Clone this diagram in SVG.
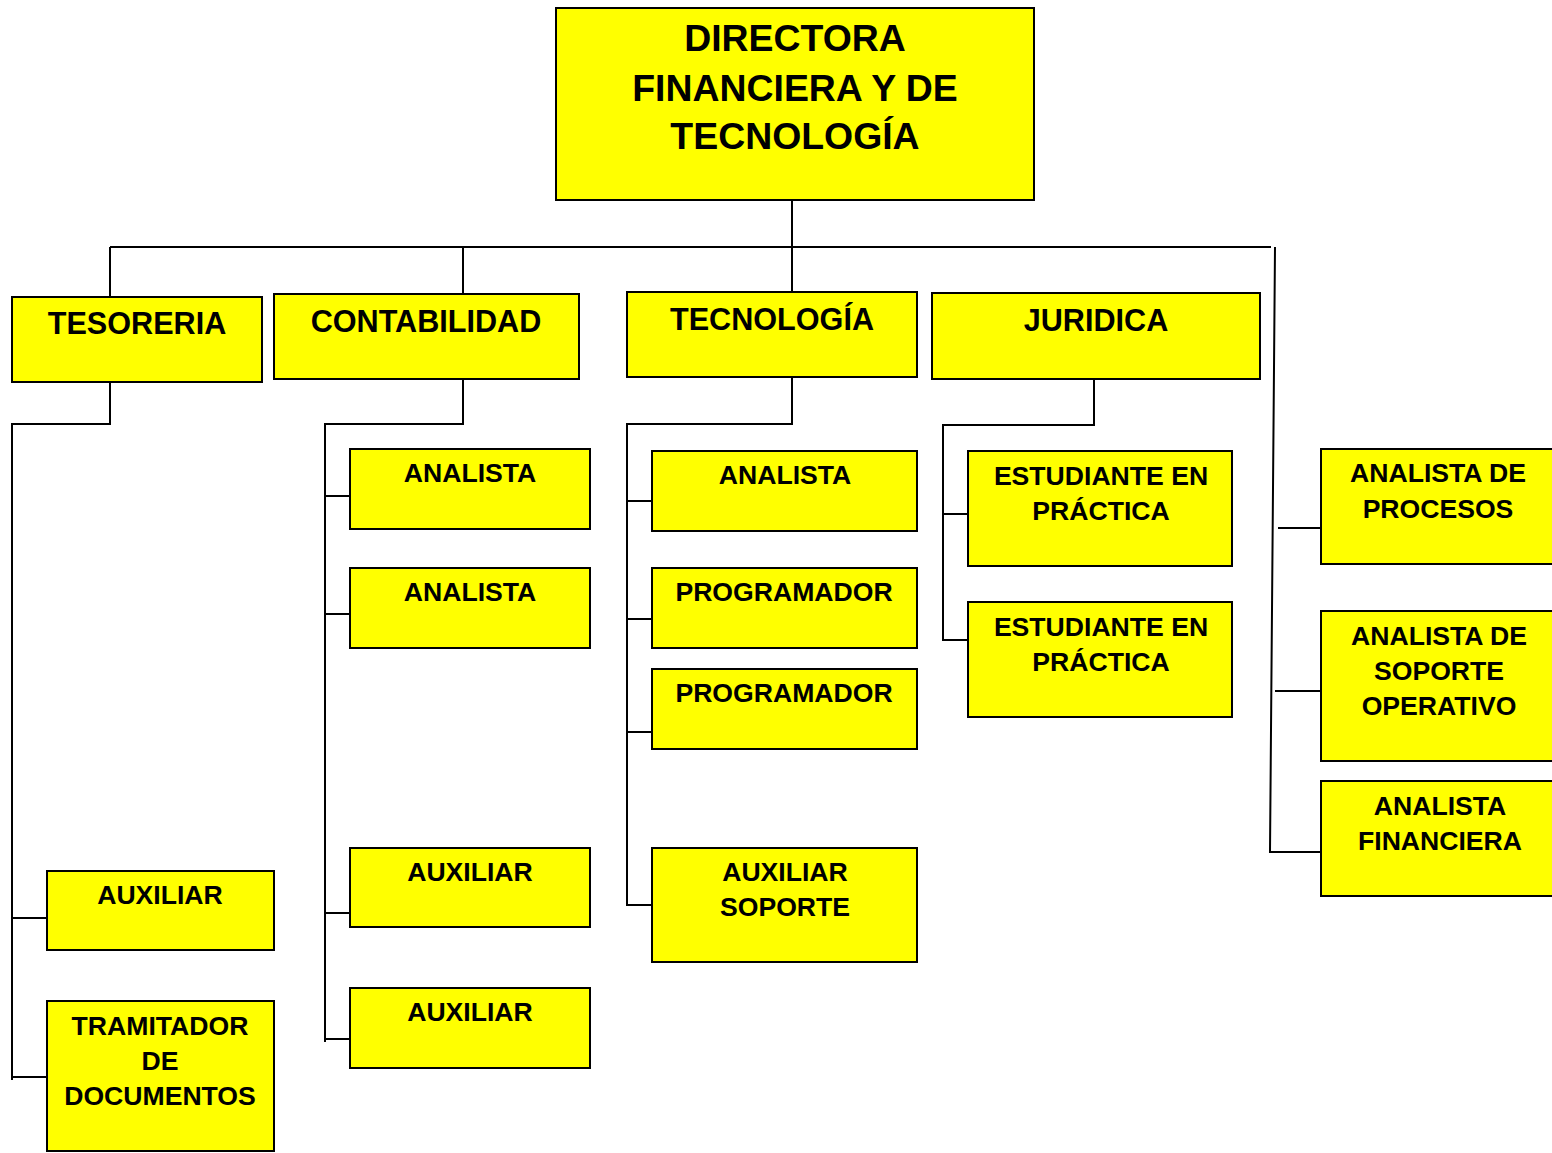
<svg xmlns="http://www.w3.org/2000/svg" width="1552" height="1153" viewBox="0 0 1552 1153">
<style>
.box{fill:#ffff00;stroke:#000;stroke-width:2}
.t{font-family:"Liberation Sans",Arial,sans-serif;font-weight:bold;fill:#000;text-anchor:middle}
.s{font-size:26.6px}
.h{font-size:30.6px}
.top{font-size:37.4px}
.ln{fill:none;stroke:#000;stroke-width:2}
</style>
<rect width="1552" height="1153" fill="#fff"/>
<g id="connectors" class="ln">
<path d="M792,200 V292"/>
<path d="M110,247 H1271"/>
<path d="M110,247 V297 M463,247 V294"/>
<path d="M1275,247 L1270,852 H1321 M1278,528 H1321 M1275,691 H1321"/>
<path d="M110,382 V424 H12 V1080 M12,918 H47 M12,1077 H47"/>
<path d="M463,379 V424 H325 V1042 M325,496 H350 M325,614 H350 M325,913 H350 M325,1039 H350"/>
<path d="M792,377 V424 H627 V905 H652 M627,501 H652 M627,619 H652 M627,732 H652"/>
<path d="M1094,379 V425 H943 V640 H968 M943,514 H968"/>
</g>
<g id="directora"><rect class="box" x="556" y="8" width="478" height="192"/>
<text class="t top" x="795" y="51">DIRECTORA</text><text class="t top" x="795" y="101">FINANCIERA Y DE</text><text class="t top" x="795" y="149">TECNOLOGÍA</text></g>
<g id="tesoreria"><rect class="box" x="12" y="297" width="250" height="85"/><text class="t h" x="137" y="334">TESORERIA</text></g>
<g id="contabilidad"><rect class="box" x="274" y="294" width="305" height="85"/><text class="t h" x="426" y="332">CONTABILIDAD</text></g>
<g id="tecnologia"><rect class="box" x="627" y="292" width="290" height="85"/><text class="t h" x="772" y="330">TECNOLOGÍA</text></g>
<g id="juridica"><rect class="box" x="932" y="293" width="328" height="86"/><text class="t h" x="1096" y="331">JURIDICA</text></g>
<g id="tes-auxiliar"><rect class="box" x="47" y="871" width="227" height="79"/><text class="t s" x="160" y="904">AUXILIAR</text></g>
<g id="tes-tramitador"><rect class="box" x="47" y="1001" width="227" height="150"/><text class="t s" x="160" y="1035">TRAMITADOR</text><text class="t s" x="160" y="1070">DE</text><text class="t s" x="160" y="1105">DOCUMENTOS</text></g>
<g id="con-analista1"><rect class="box" x="350" y="449" width="240" height="80"/><text class="t s" x="470" y="482">ANALISTA</text></g>
<g id="con-analista2"><rect class="box" x="350" y="568" width="240" height="80"/><text class="t s" x="470" y="601">ANALISTA</text></g>
<g id="con-auxiliar1"><rect class="box" x="350" y="848" width="240" height="79"/><text class="t s" x="470" y="881">AUXILIAR</text></g>
<g id="con-auxiliar2"><rect class="box" x="350" y="988" width="240" height="80"/><text class="t s" x="470" y="1021">AUXILIAR</text></g>
<g id="tec-analista"><rect class="box" x="652" y="451" width="265" height="80"/><text class="t s" x="785" y="484">ANALISTA</text></g>
<g id="tec-programador1"><rect class="box" x="652" y="568" width="265" height="80"/><text class="t s" x="784" y="601">PROGRAMADOR</text></g>
<g id="tec-programador2"><rect class="box" x="652" y="669" width="265" height="80"/><text class="t s" x="784" y="702">PROGRAMADOR</text></g>
<g id="tec-auxiliar-soporte"><rect class="box" x="652" y="848" width="265" height="114"/><text class="t s" x="785" y="881">AUXILIAR</text><text class="t s" x="785" y="916">SOPORTE</text></g>
<g id="jur-estudiante1"><rect class="box" x="968" y="451" width="264" height="115"/><text class="t s" x="1101" y="485">ESTUDIANTE EN</text><text class="t s" x="1101" y="520">PRÁCTICA</text></g>
<g id="jur-estudiante2"><rect class="box" x="968" y="602" width="264" height="115"/><text class="t s" x="1101" y="636">ESTUDIANTE EN</text><text class="t s" x="1101" y="671">PRÁCTICA</text></g>
<g id="analista-procesos"><rect class="box" x="1321" y="449" width="240" height="115"/><text class="t s" x="1438" y="482">ANALISTA DE</text><text class="t s" x="1438" y="518">PROCESOS</text></g>
<g id="analista-soporte"><rect class="box" x="1321" y="611" width="240" height="150"/><text class="t s" x="1439" y="645">ANALISTA DE</text><text class="t s" x="1439" y="680">SOPORTE</text><text class="t s" x="1439" y="715">OPERATIVO</text></g>
<g id="analista-financiera"><rect class="box" x="1321" y="781" width="240" height="115"/><text class="t s" x="1440" y="815">ANALISTA</text><text class="t s" x="1440" y="850">FINANCIERA</text></g>
</svg>
